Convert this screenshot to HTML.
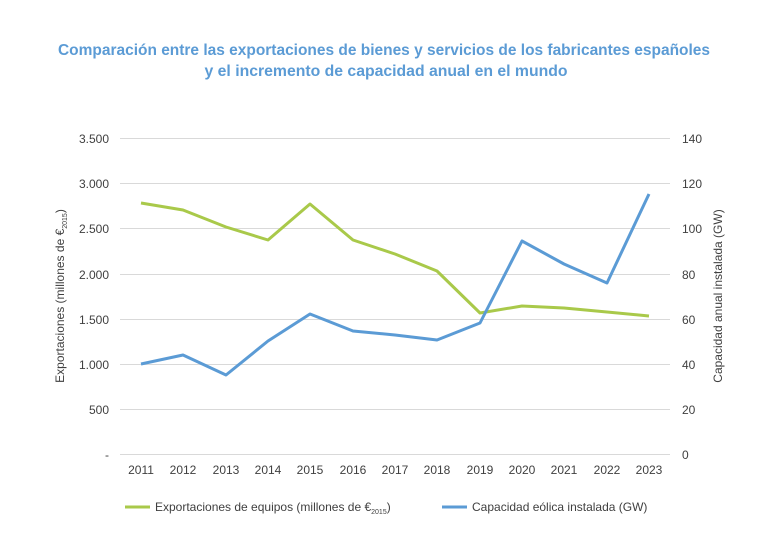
<!DOCTYPE html>
<html><head><meta charset="utf-8"><style>
html,body{margin:0;padding:0;background:#fff;}
svg{display:block;font-family:"Liberation Sans",sans-serif;}
</style></head><body>
<svg width="768" height="556" viewBox="0 0 768 556" xmlns="http://www.w3.org/2000/svg">
<rect width="768" height="556" fill="#fff"/>
<g fill="#5b9bd5" font-size="15.5" font-weight="bold" text-anchor="middle">
<text x="384" y="55" textLength="652" lengthAdjust="spacingAndGlyphs">Comparación entre las exportaciones de bienes y servicios de los fabricantes españoles</text>
<text x="386" y="76" textLength="363" lengthAdjust="spacingAndGlyphs">y el incremento de capacidad anual en el mundo</text>
</g>
<g stroke="#d9d9d9" stroke-width="1">
<line x1="120" x2="670" y1="138.5" y2="138.5"/>
<line x1="120" x2="670" y1="183.5" y2="183.5"/>
<line x1="120" x2="670" y1="228.5" y2="228.5"/>
<line x1="120" x2="670" y1="274.5" y2="274.5"/>
<line x1="120" x2="670" y1="319.5" y2="319.5"/>
<line x1="120" x2="670" y1="364.5" y2="364.5"/>
<line x1="120" x2="670" y1="409.5" y2="409.5"/>
<line x1="120" x2="670" y1="454.5" y2="454.5"/>
</g>
<g fill="#404040" font-size="12" text-anchor="end">
<text x="109" y="143">3.500</text><text x="109" y="188">3.000</text><text x="109" y="233">2.500</text>
<text x="109" y="279">2.000</text><text x="109" y="324">1.500</text><text x="109" y="369">1.000</text>
<text x="109" y="414">500</text><text x="109" y="459">-</text>
</g>
<g fill="#404040" font-size="12" text-anchor="start">
<text x="682" y="143">140</text><text x="682" y="188">120</text><text x="682" y="233">100</text>
<text x="682" y="279">80</text><text x="682" y="324">60</text><text x="682" y="369">40</text>
<text x="682" y="414">20</text><text x="682" y="459">0</text>
</g>
<g fill="#404040" font-size="12" text-anchor="middle">
<text x="141" y="474">2011</text><text x="183" y="474">2012</text><text x="226" y="474">2013</text>
<text x="268" y="474">2014</text><text x="310" y="474">2015</text><text x="353" y="474">2016</text>
<text x="395" y="474">2017</text><text x="437" y="474">2018</text><text x="480" y="474">2019</text>
<text x="522" y="474">2020</text><text x="564" y="474">2021</text><text x="607" y="474">2022</text>
<text x="649" y="474">2023</text>
</g>
<text transform="translate(64,296) rotate(-90)" fill="#404040" font-size="12" text-anchor="middle">Exportaciones (millones de €<tspan font-size="7" dy="3">2015</tspan><tspan dy="-3">)</tspan></text>
<text transform="translate(722,296) rotate(-90)" fill="#404040" font-size="12" text-anchor="middle">Capacidad  anual instalada (GW)</text>
<polyline fill="none" stroke="#a9c94a" stroke-width="3" stroke-linejoin="round" points="141,203 183,210 226,227 268,240 310,204 353,240 395,254 437,271 480,313 522,306 564,308 607,312 649,316"/>
<polyline fill="none" stroke="#5b9bd5" stroke-width="3" stroke-linejoin="round" points="141,364 183,355 226,375 268,341 310,314 353,331 395,335 437,340 480,323 522,241 564,264 607,283 649,194"/>
<line x1="125" x2="150" y1="507" y2="507" stroke="#a9c94a" stroke-width="3"/>
<text x="155" y="511" fill="#404040" font-size="12">Exportaciones de equipos (millones de €<tspan font-size="7" dy="3">2015</tspan><tspan dy="-3">)</tspan></text>
<line x1="442" x2="467" y1="507" y2="507" stroke="#5b9bd5" stroke-width="3"/>
<text x="472" y="511" fill="#404040" font-size="12">Capacidad eólica instalada (GW)</text>
</svg>
</body></html>
